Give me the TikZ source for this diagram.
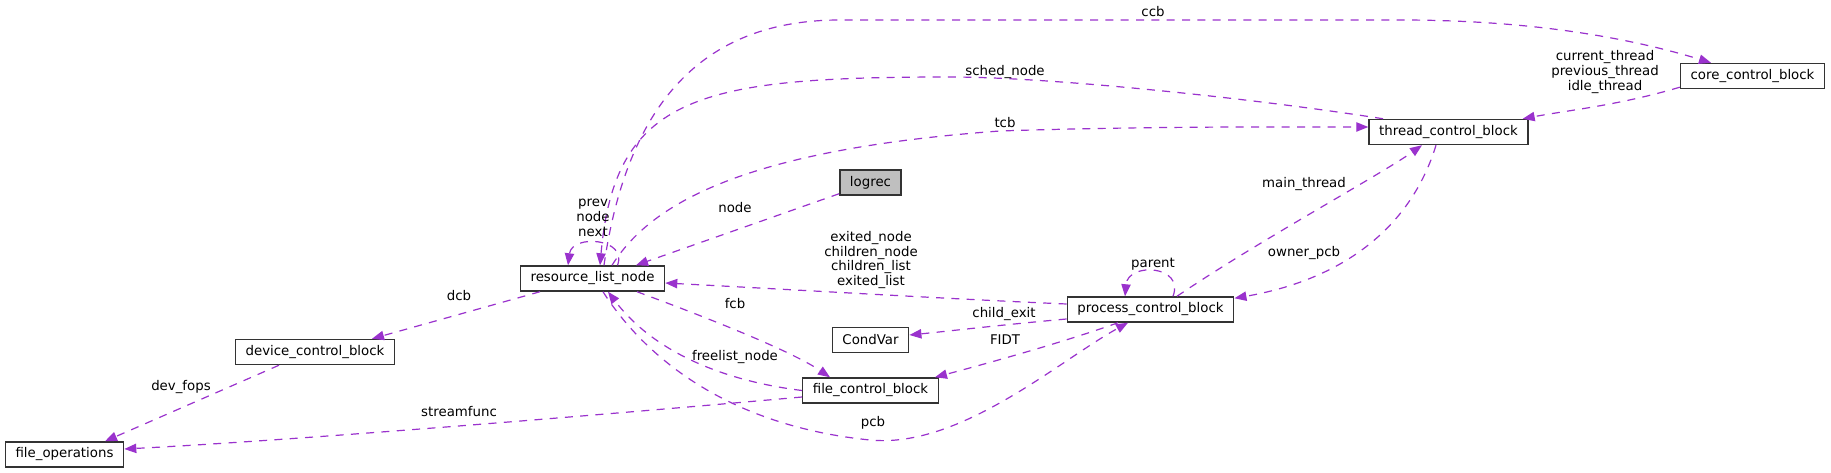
\documentclass[tikz,border=0pt]{standalone}
\usepackage{fontspec}
\setmainfont{DejaVu Sans}
\usepackage{tikz}
\usetikzlibrary{positioning,calc,arrows.meta}
\definecolor{relcol}{HTML}{9A32CD}
\definecolor{boxline}{HTML}{333333}
\definecolor{boxgray}{HTML}{BFBFBF}
\tikzset{>={Triangle[length=9pt,width=7pt]}}
\tikzset{
  cls/.style={draw=boxline,line width=1.1pt,fill=white,inner xsep=7.6pt,inner ysep=0pt,minimum height=18.75pt,font=\fontsize{10}{11}\selectfont},
  rel/.style={->,relcol,line width=0.9pt,dash pattern=on 6pt off 5.5pt},
  lbl/.style={inner sep=0pt,align=center,font=\fontsize{10}{11}\selectfont}
}

\begin{document}
\begin{tikzpicture}[x=0.75pt,y=-0.75pt]
\useasboundingbox (0,0) rectangle (1831,473);
\fill[white] (0,0) rectangle (1831,473);
\node[cls] (rln) at (592.5,278.5) {resource\_list\_node};
\node[cls,fill=boxgray] (logrec) at (870.5,182.5) {logrec};
\node[cls] (condvar) at (870.5,340) {CondVar};
\node[cls] (fcb) at (870.5,390.5) {file\_control\_block};
\node[cls] (pcb) at (1150.5,309.5) {process\_control\_block};
\node[cls] (tcb) at (1448.5,132) {thread\_control\_block};
\node[cls] (ccb) at (1752.5,76) {core\_control\_block};
\node[cls] (dcb) at (315,352) {device\_control\_block};
\node[cls] (fops) at (64.5,454.5) {file\_operations};
\draw[rel] ($(rln.north)+(11.5,0)$) .. controls (625,120) and (690,20) .. (840,20) -- (1400,20) .. controls (1520,20) and (1620,35) .. ($(ccb.north)+(-41.5,0)$);
\draw[rel] ($(tcb.north)+(-65.5,0)$) .. controls (1250,98) and (1050,77) .. (950,77) .. controls (700,77) and (615,95) .. ($(rln.north)+(7.5,0)$);
\draw[rel] ($(rln.north)+(19.5,0)$) .. controls (650,205) and (740,150) .. (1000,131) .. controls (1150,126) and (1300,127) .. ($(tcb.west)+(0,-5)$);
\draw[rel] ($(logrec.south west)+(0,-2)$) -- ($(rln.north)+(43.5,0)$);
\draw[rel] ($(rln.north)+(25,0)$) .. controls (628,238) and (572,234) .. ($(rln.north)+(-24.5,0)$);
\draw[rel] ($(pcb.west)+(0,-5.5)$) .. controls (950,299) and (800,290) .. ($(rln.east)+(0,4.5)$);
\draw[rel] ($(rln.south)+(44.5,0)$) .. controls (700,315) and (790,350) .. ($(fcb.north)+(-40.5,0)$);
\draw[rel] (fcb.west) .. controls (740,383) and (660,360) .. ($(rln.south)+(15.5,0)$);
\draw[rel] ($(rln.south)+(10.5,0)$) .. controls (640,350) and (720,425) .. (870,440) .. controls (960,449) and (1060,360) .. ($(pcb.south)+(-22.5,0)$);
\draw[rel] ($(pcb.west)+(0,9.5)$) .. controls (1000,325) and (950,331) .. ($(condvar.east)+(0,-5)$);
\draw[rel] ($(pcb.south)+(-32.5,0)$) .. controls (1070,340) and (1000,360) .. ($(fcb.north east)+(-4,0)$);
\draw[rel] ($(pcb.north)+(26.5,0)$) .. controls (1260,240) and (1380,175) .. ($(tcb.south)+(-26.5,0)$);
\draw[rel] ($(tcb.south)+(-12.5,0)$) .. controls (1410,230) and (1340,280) .. ($(pcb.north east)+(0,2)$);
\draw[rel] ($(pcb.north)+(22.5,0)$) .. controls (1185,265) and (1128,262) .. ($(pcb.north)+(-25.5,0)$);
\draw[rel] ($(ccb.south west)+(0,-2)$) .. controls (1620,105) and (1570,110) .. ($(tcb.north east)+(-6,0)$);
\draw[rel] ($(rln.south)+(-52.5,0)$) -- ($(dcb.north)+(57,0)$);
\draw[rel] ($(dcb.south)+(-36,0)$) -- ($(fops.north)+(40.5,0)$);
\draw[rel] ($(fcb.west)+(0,6.5)$) .. controls (600,415) and (300,440) .. ($(fops.east)+(0,-5.5)$);
\node[lbl] (l_ccb) at (1153,12) {ccb};
\node[lbl] (l_sched) at (1005,72) {sched\_node};
\node[lbl] (l_tcb) at (1005,123) {tcb};
\node[lbl] (l_node) at (735,208) {node};
\node[lbl] (l_self) at (593,218) {prev\\node\\next};
\node[lbl] (l_exit) at (871,260) {exited\_node\\children\_node\\children\_list\\exited\_list};
\node[lbl] (l_fcb) at (735,304) {fcb};
\node[lbl] (l_free) at (735,357) {freelist\_node};
\node[lbl] (l_pcb) at (873,423) {pcb};
\node[lbl] (l_child) at (1004,314) {child\_exit};
\node[lbl] (l_fidt) at (1005,340) {FIDT};
\node[lbl] (l_main) at (1304,184) {main\_thread};
\node[lbl] (l_owner) at (1304,253) {owner\_pcb};
\node[lbl] (l_parent) at (1153,264) {parent};
\node[lbl] (l_cur) at (1605,72) {current\_thread\\previous\_thread\\idle\_thread};
\node[lbl] (l_dcb) at (459,296) {dcb};
\node[lbl] (l_fops) at (181,387) {dev\_fops};
\node[lbl] (l_stream) at (459,412) {streamfunc};
\end{tikzpicture}
\end{document}
